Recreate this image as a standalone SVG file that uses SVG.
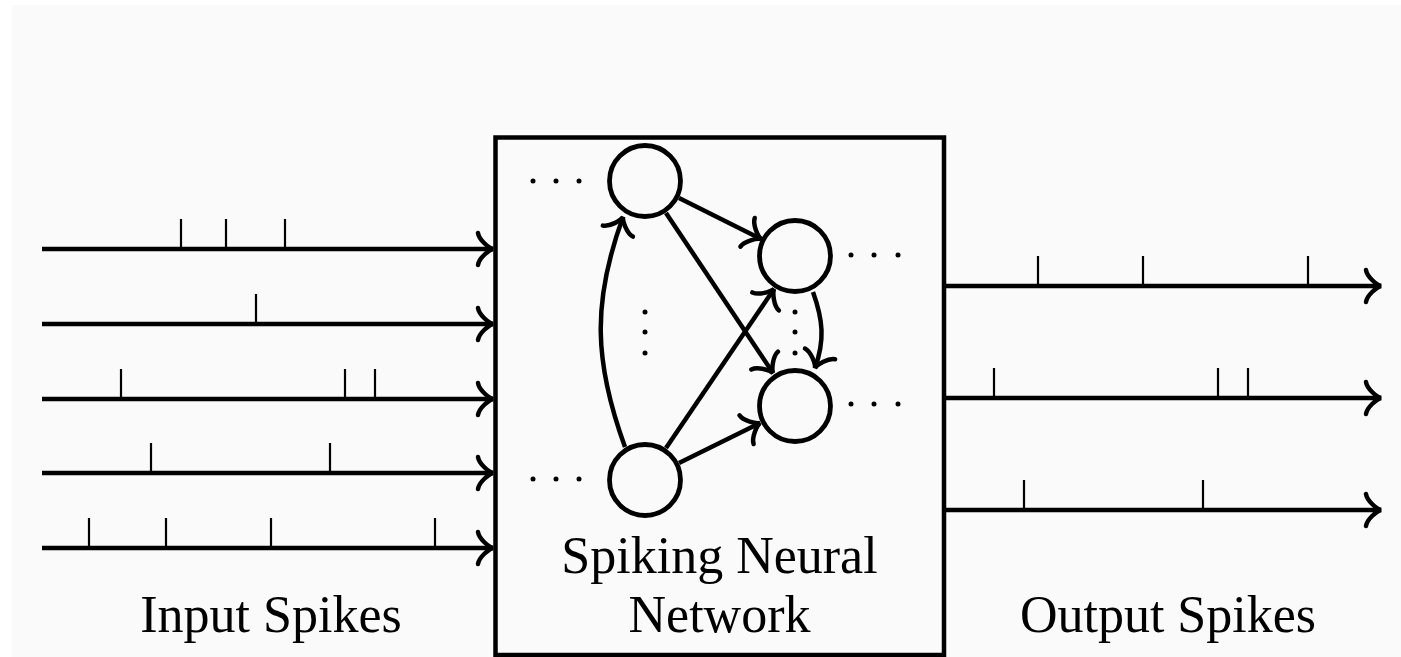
<svg xmlns="http://www.w3.org/2000/svg" width="1401" height="657" viewBox="0 0 1401 657">
  <style>
    .wire { fill: none; stroke: #000; stroke-width: 4.5; }
    .spike { stroke: #000; stroke-width: 2.2; }
    .neuron { fill: none; stroke: #000; stroke-width: 4.8; }
    .dot { fill: #000; }
    .label { font-family: "Liberation Serif", "Times New Roman", serif; font-size: 52px; fill: #000; text-anchor: middle; }
  </style>
  <defs>
    <!-- curved "to"-style arrow tip, tip at the path end -->
    <marker id="tip" markerUnits="userSpaceOnUse" viewBox="-18 -19 21 38" refX="0" refY="0" markerWidth="21" markerHeight="38" orient="auto" overflow="visible">
      <path d="M -15 -16 C -14 -9 -4 -1 0 0 C -4 1 -14 9 -15 16" fill="none" stroke="#000" stroke-width="4.5" stroke-linecap="round"/>
    </marker>
  </defs>

  <rect x="0" y="0" width="1401" height="657" fill="#ffffff"/>
  <rect x="12" y="5" width="1389" height="652" fill="#fafafa"/>

  <!-- input spike trains -->
  <g id="input-spikes">
    <g class="wire" marker-end="url(#tip)">
      <path d="M 42 249 H 493"/>
      <path d="M 42 324 H 493"/>
      <path d="M 42 399 H 493"/>
      <path d="M 42 473 H 493"/>
      <path d="M 42 548 H 493"/>
    </g>
    <g class="spike">
      <line x1="181" y1="219" x2="181" y2="249"/>
      <line x1="226" y1="219" x2="226" y2="249"/>
      <line x1="285" y1="219" x2="285" y2="249"/>
      <line x1="256" y1="294" x2="256" y2="324"/>
      <line x1="121" y1="369" x2="121" y2="399"/>
      <line x1="345" y1="369" x2="345" y2="399"/>
      <line x1="375" y1="369" x2="375" y2="399"/>
      <line x1="151" y1="443" x2="151" y2="473"/>
      <line x1="330" y1="443" x2="330" y2="473"/>
      <line x1="89" y1="518" x2="89" y2="548"/>
      <line x1="166" y1="518" x2="166" y2="548"/>
      <line x1="271" y1="518" x2="271" y2="548"/>
      <line x1="435" y1="518" x2="435" y2="548"/>
    </g>
    <text class="label" x="271" y="632">Input Spikes</text>
  </g>

  <!-- network block -->
  <g id="snn-box">
    <rect x="495.5" y="137.5" width="448.5" height="517.5" fill="none" stroke="#000" stroke-width="4.5"/>
    <text class="label" x="719.5" y="573">Spiking Neural</text>
    <text class="label" x="719.5" y="632">Network</text>
  </g>

  <!-- neurons -->
  <g id="neuron-a"><circle class="neuron" cx="645" cy="181" r="35.5"/></g>
  <g id="neuron-b"><circle class="neuron" cx="645" cy="480" r="35.5"/></g>
  <g id="neuron-c"><circle class="neuron" cx="795" cy="256" r="35.5"/></g>
  <g id="neuron-d"><circle class="neuron" cx="795" cy="406" r="35.5"/></g>

  <!-- ellipses -->
  <g id="ellipses" class="dot">
    <circle cx="533" cy="181" r="2.5"/><circle cx="556" cy="181" r="2.5"/><circle cx="579" cy="181" r="2.5"/>
    <circle cx="533" cy="479" r="2.5"/><circle cx="556" cy="479" r="2.5"/><circle cx="579" cy="479" r="2.5"/>
    <circle cx="851" cy="255" r="2.5"/><circle cx="874" cy="255" r="2.5"/><circle cx="898" cy="255" r="2.5"/>
    <circle cx="851" cy="404" r="2.5"/><circle cx="874" cy="404" r="2.5"/><circle cx="898" cy="404" r="2.5"/>
    <circle cx="645" cy="312" r="2.5"/><circle cx="645" cy="332" r="2.5"/><circle cx="645" cy="353" r="2.5"/>
    <circle cx="795" cy="312" r="2.5"/><circle cx="795" cy="332" r="2.5"/><circle cx="795" cy="353" r="2.5"/>
  </g>

  <!-- synapses -->
  <g id="synapses" class="wire" marker-end="url(#tip)">
    <path d="M 679 198 L 761 239"/>
    <path d="M 666 213 L 773 373"/>
    <path d="M 666 448 L 774 289"/>
    <path d="M 679 463 L 760 423"/>
    <path d="M 625 447 C 594 362 592 302 623 217"/>
    <path d="M 813 292 C 823 320 825 340 815 368"/>
  </g>

  <!-- output spike trains -->
  <g id="output-spikes">
    <g class="wire" marker-end="url(#tip)">
      <path d="M 944 286 H 1381"/>
      <path d="M 944 398 H 1381"/>
      <path d="M 944 510 H 1381"/>
    </g>
    <g class="spike">
      <line x1="1038" y1="256" x2="1038" y2="286"/>
      <line x1="1143" y1="256" x2="1143" y2="286"/>
      <line x1="1308" y1="256" x2="1308" y2="286"/>
      <line x1="994" y1="368" x2="994" y2="398"/>
      <line x1="1218" y1="368" x2="1218" y2="398"/>
      <line x1="1248" y1="368" x2="1248" y2="398"/>
      <line x1="1024" y1="480" x2="1024" y2="510"/>
      <line x1="1203" y1="480" x2="1203" y2="510"/>
    </g>
    <text class="label" x="1168" y="632">Output Spikes</text>
  </g>
</svg>
